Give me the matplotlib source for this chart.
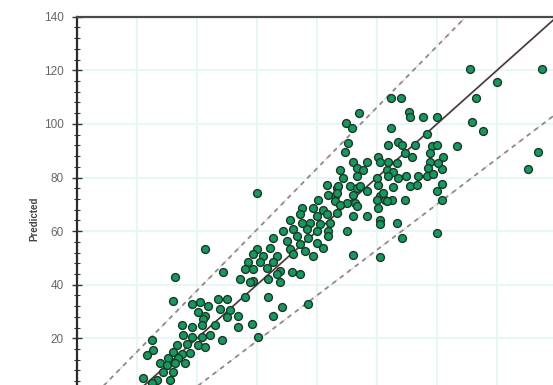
import matplotlib
matplotlib.use("Agg")
import matplotlib.pyplot as plt
from matplotlib.ticker import MultipleLocator
import numpy as np

# Observed vs. predicted values
actual = [
    111.0, 134.9, 120.1, 113.0, 111.8, 115.4, 106.8, 133.8, 130.4, 102.1, 101.6, 101.6,
    84.7, 88.0, 74.1, 90.8, 91.0, 95.4, 99.9, 69.7, 71.6, 84.6, 96.8, 70.4, 69.3, 83.8,
    87.1, 88.2, 92.7, 98.2, 99.9, 80.4, 81.0, 89.3, 91.6, 97.7, 72.1, 76.6, 83.8, 86.6,
    97.7, 97.1, 100.4, 67.7, 73.2, 75.4, 83.2, 85.4, 89.7, 93.8, 96.6, 98.8, 68.8, 73.2,
    83.8, 87.1, 66.6, 71.0, 73.2, 80.4, 85.4, 91.0, 93.2, 99.9, 66.0, 72.1, 81.0, 82.7,
    84.9, 89.3, 101.6, 72.7,
    39.9, 79.9, 63.2, 67.1, 74.3, 63.8, 66.6, 76.6, 82.1, 60.4, 66.0, 69.9, 79.9, 83.2,
    54.9, 58.8, 62.1, 67.7, 73.2, 80.4, 54.3, 59.9, 63.2, 66.6, 72.1, 76.6, 81.0, 51.0,
    54.9, 57.7, 61.0, 64.3, 81.0, 48.8, 52.1, 56.6, 59.9, 63.8, 69.9, 53.2, 57.1, 63.8,
    45.4, 49.9, 54.3, 59.9, 62.1, 39.9, 44.3, 51.0, 56.0, 58.8, 38.8, 42.1, 46.6, 52.1,
    72.1, 81.0, 37.1, 41.0, 45.4, 38.8, 43.2, 47.7, 51.6, 54.3, 28.8, 34.3, 38.8, 43.8,
    47.7,
    99.9, 88.2, 57.1, 86.6, 22.7,
    12.7, 36.0, 37.7, 46.6, 12.1, 18.2, 21.0, 23.8, 27.1, 29.9, 36.0, 43.8, 48.2, 20.4,
    22.7, 27.7, 31.0, 33.8, 45.4, 22.1, 29.9, 14.9, 18.2, 21.6, 26.0, 33.8, 38.2, 15.4,
    18.2, 21.6, 24.3, 28.2, 4.9, 13.2, 16.6, 20.4, 22.7, 40.4, 5.4, 12.1, 14.9, 17.7,
    3.2, 10.4, 13.8, 7.7, 9.9, 12.7, 16.0, 8.8, 12.1, 2.1, 6.6, 11.0, 4.9,
]
predicted = [
    120.5, 120.3, 115.6, 109.6, 100.7, 97.4, 91.7, 89.6, 83.2, 87.8, 83.0, 77.4,
    109.7, 109.7, 104.2, 104.4, 102.6, 102.6, 102.6, 100.5, 98.5, 98.3, 96.4, 92.7, 89.4, 92.3,
    93.1, 92.1, 92.1, 91.9, 92.3, 87.8, 85.9, 89.0, 87.8, 89.0, 85.9, 85.9, 85.9, 85.3,
    85.9, 83.4, 85.3, 82.9, 83.4, 82.9, 82.9, 82.2, 80.7, 80.4, 80.6, 81.2, 79.7, 80.4,
    80.4, 79.7, 76.0, 76.7, 76.0, 77.3, 76.3, 76.7, 77.3, 74.8, 73.0, 73.6, 73.0, 71.7,
    71.7, 71.7, 71.7, 70.5,
    74.2, 79.7, 77.3, 76.7, 76.7, 73.6, 74.2, 74.8, 74.2, 71.7, 71.1, 70.5, 71.7, 71.1,
    68.6, 68.6, 68.0, 69.9, 69.3, 68.6, 66.2, 65.6, 66.2, 66.8, 65.6, 65.6, 64.3, 64.3,
    63.1, 62.9, 62.5, 62.9, 62.5, 60.0, 60.6, 60.6, 60.0, 60.0, 60.0, 58.1, 57.5, 58.1,
    57.5, 56.3, 55.1, 55.7, 53.8, 53.2, 53.8, 53.2, 52.6, 50.7, 51.4, 50.7, 50.7, 51.4,
    51.0, 50.5, 48.3, 48.3, 48.3, 45.8, 46.4, 45.2, 44.8, 44.0, 44.6, 42.1, 41.5, 42.1,
    40.9,
    59.4, 57.3, 32.9, 63.1, 53.4,
    42.7, 45.8, 40.9, 44.0, 34.1, 32.9, 33.4, 32.2, 34.7, 34.7, 35.3, 35.3, 31.6, 29.7,
    28.5, 31.0, 30.4, 28.5, 28.5, 27.3, 27.9, 24.8, 24.2, 24.8, 24.8, 24.2, 25.4, 21.1,
    20.5, 20.5, 21.1, 19.3, 19.3, 17.4, 18.0, 17.4, 16.8, 20.5, 15.6, 14.9, 14.3, 14.7,
    13.7, 12.5, 12.5, 10.6, 10.0, 10.6, 10.6, 7.5, 7.5, 5.1, 4.4, 4.4, 3.2,
]

# Reference lines: (slope, intercept)
identity_line = (1.0, 0.0)
upper_band = (1.14, 15.0)
lower_band = (0.85, -15.0)

y_ticks = [0, 20, 40, 60, 80, 100, 120, 140]
x_grid = [-20, 0, 20, 40, 60, 80, 100, 120, 140]

W, H = 553, 385
fig = plt.figure(figsize=(W / 100, H / 100), dpi=100)

x_left, x_right = -20.0, 150.0
y_bot, y_top = 0.0, 140.0
px_per_x = 3.0
px_per_y = 2.68
ax_left_px, ax_top_px = 77, 16.7
ax_w_px = (x_right - x_left) * px_per_x
ax_h_px = (y_top - y_bot) * px_per_y
ax = fig.add_axes([ax_left_px / W, 1 - (ax_top_px + ax_h_px) / H,
                   ax_w_px / W, ax_h_px / H])
ax.set_xlim(x_left, x_right)
ax.set_ylim(y_bot, y_top)

# faint cyan grid
for g in x_grid:
    ax.axvline(g, color="#e4f7f5", lw=1.3, zorder=0)
for g in y_ticks:
    ax.axhline(g, color="#e4f7f5", lw=1.3, zorder=0)

xs = np.array([x_left, x_right])
m, b = identity_line
ax.plot(xs, m * xs + b, color="#d8a0a0", lw=2.0, alpha=0.3, zorder=1)
ax.plot(xs, m * xs + b, color="#3a3434", lw=1.1, zorder=2)
for m, b in (upper_band, lower_band):
    ax.plot(xs, m * xs + b, color="#f6c6d2", lw=0.9, ls=(1.5, (2, 3.2)), zorder=1)
    ax.plot(xs, m * xs + b, color="#8c8a8b", lw=1.3, ls=(0, (2.6, 2.6)), zorder=2)

ax.scatter(actual, predicted, s=32, c="#119b5d", edgecolors="#1f352a",
           linewidths=1.0, zorder=3)

ax.set_yticks(y_ticks)
ax.yaxis.set_minor_locator(MultipleLocator(4))
ax.tick_params(axis="y", which="major", direction="inout", length=7, width=1.0,
               color="#333333", labelsize=8.5, labelcolor="#666666", pad=6)
ax.tick_params(axis="y", which="minor", direction="inout", length=4, width=0.8,
               color="#333333")
ax.tick_params(axis="x", which="both", bottom=False, labelbottom=False)
for lbl in ax.get_yticklabels():
    lbl.set_family("Liberation Sans")

for side in ("right", "bottom"):
    ax.spines[side].set_visible(False)
ax.spines["left"].set_color("#2b2b2b")
ax.spines["left"].set_linewidth(1.6)
ax.spines["top"].set_color("#4a4a4a")
ax.spines["top"].set_linewidth(1.6)

fig.text(34 / W, 1 - 219 / H, "Predicted", rotation=90, ha="center", va="center",
         fontsize=7, fontweight="bold", color="#444444", family="Liberation Sans")

fig.savefig("out.png", dpi=100)
